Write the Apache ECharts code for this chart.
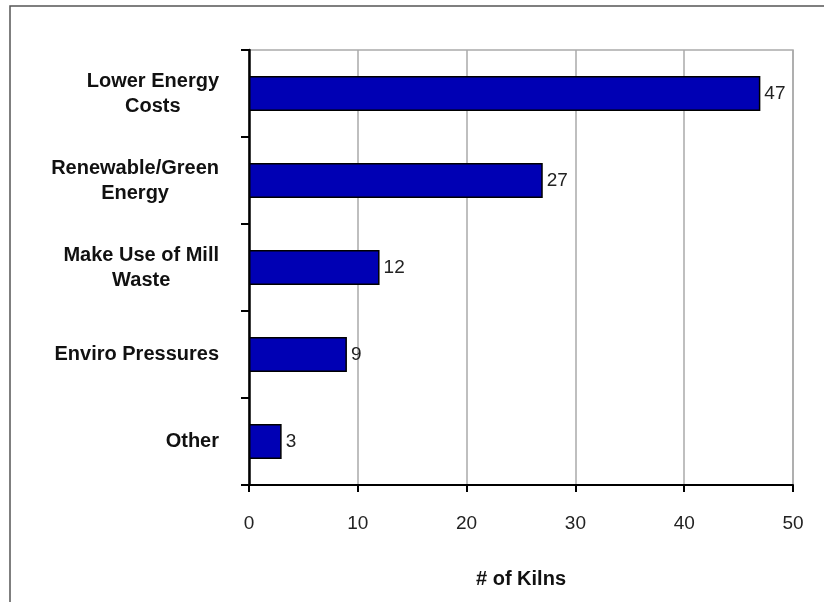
<!DOCTYPE html>
<html lang="en">
<head>
    <meta charset="UTF-8">
    <title># of Kilns</title>
    <script src="https://cdn.jsdelivr.net/npm/echarts/dist/echarts.min.js"></script>
    <style>
        html, body { margin: 0; padding: 0; background: #fff; }
        #chart { width: 824px; height: 602px; }
    </style>
</head>
<body>
    <div id="chart"></div>
    <script>
        // categories top to bottom, and their kiln counts
        const reasons = ['Lower Energy\nCosts', 'Renewable/Green\nEnergy', 'Make Use of Mill\nWaste', 'Enviro Pressures', 'Other'];
        const kilns = [47, 27, 12, 9, 3];
        const xTicks = [0, 10, 20, 30, 40, 50];

        const chart = echarts.init(document.getElementById('chart'));
        chart.setOption({
            animation: false,
            textStyle: { fontFamily: '"Liberation Sans", Arial, sans-serif' },
            graphic: [{
                type: 'rect',
                shape: { x: 10, y: 6, width: 900, height: 700 },
                style: { fill: 'none', stroke: '#555', lineWidth: 1.5 }
            }],
            grid: {
                left: 249, right: 31, top: 50, bottom: 117,
                show: true, borderColor: '#aaa', borderWidth: 1.5
            },
            xAxis: {
                type: 'value',
                min: xTicks[0],
                max: xTicks[xTicks.length - 1],
                interval: 10,
                name: '# of Kilns',
                nameLocation: 'middle',
                nameGap: 84,
                nameTextStyle: { fontSize: 20, fontWeight: 'bold', color: '#111' },
                axisLine: { show: true, lineStyle: { color: '#000', width: 2 } },
                axisTick: { show: true, length: 7, lineStyle: { color: '#000', width: 2 } },
                axisLabel: { fontSize: 19, color: '#222', margin: 29 },
                splitLine: { lineStyle: { color: '#aaa', width: 1.5 } }
            },
            yAxis: {
                type: 'category',
                data: reasons,
                inverse: true,
                axisLine: { show: true, lineStyle: { color: '#000', width: 2.5 } },
                axisTick: { show: true, length: 8, lineStyle: { color: '#000', width: 2 } },
                axisLabel: {
                    margin: 30,
                    formatter: v => v.split('\n').map(s => '{c|' + s + '}').join('\n'),
                    rich: {
                        c: { align: 'center', fontSize: 20, fontWeight: 'bold', color: '#111', lineHeight: 25 }
                    }
                }
            },
            series: [{
                type: 'bar',
                data: kilns,
                barWidth: '40%',
                itemStyle: { color: '#0000b4', borderColor: '#000', borderWidth: 1.5 },
                label: { show: true, position: 'right', distance: 4, fontSize: 19, color: '#222' }
            }]
        });
    </script>
</body>
</html>
